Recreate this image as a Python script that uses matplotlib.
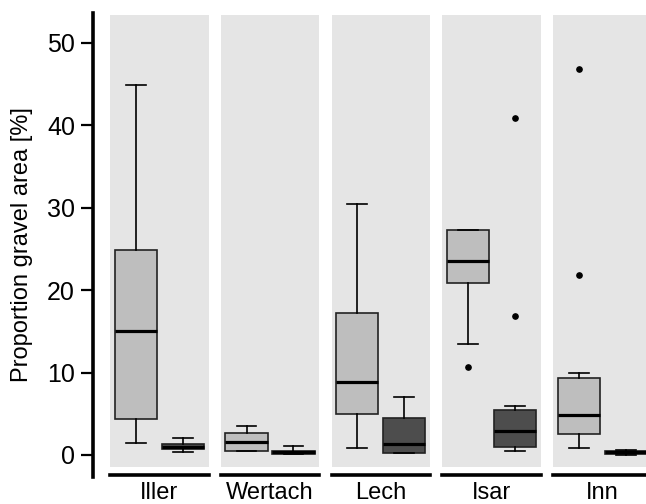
import matplotlib
matplotlib.use('Agg')
import matplotlib.pyplot as plt

plt.rcParams['font.family'] = ['Liberation Sans', 'DejaVu Sans']

rivers = ['Iller', 'Wertach', 'Lech', 'Isar', 'Inn']
# each river: [light box, dark box]
whislo = [[1.4, 0.3], [0.52, 0.16], [0.9, 0.2], [13.5, 0.5], [0.9, 0.0]]
q1 = [[4.4, 0.7], [0.52, 0.16], [5.0, 0.2], [20.9, 0.93], [2.6, 0.12]]
med = [[15.0, 1.0], [1.55, 0.3], [8.9, 1.35], [23.5, 2.95], [4.85, 0.33]]
q3 = [[24.9, 1.3], [2.63, 0.52], [17.2, 4.45], [27.3, 5.5], [9.4, 0.5]]
whishi = [[44.9, 2.0], [3.56, 1.09], [30.5, 7.0], [27.3, 5.9], [9.9, 0.6]]
fliers = [[[], []], [[], []], [[], []], [[10.7], [40.9, 16.9]], [[46.9, 21.9], []]]

box_colors = ['#BEBEBE', '#4D4D4D']
panel_bg = '#E5E5E5'

fig = plt.figure(figsize=(6.46, 5.04), dpi=100)
W, H = 646.0, 504.0

# panels
for i, river in enumerate(rivers):
    left = 110 + i * 110.75
    ax = fig.add_axes([left / W, (H - 467) / H, 98.5 / W, 452 / H])
    ax.set_facecolor(panel_bg)
    stats = []
    for j in range(2):
        stats.append(dict(whislo=whislo[i][j], q1=q1[i][j], med=med[i][j],
                          q3=q3[i][j], whishi=whishi[i][j], fliers=fliers[i][j]))
    bp = ax.bxp(stats, positions=[1, 2], widths=0.9, capwidths=0.42,
                patch_artist=True, showfliers=True,
                boxprops=dict(edgecolor='#222222', linewidth=1.2),
                medianprops=dict(color='black', linewidth=2.3),
                whiskerprops=dict(color='black', linewidth=1.2),
                capprops=dict(color='black', linewidth=1.2),
                flierprops=dict(marker='o', markerfacecolor='black',
                                markeredgecolor='black', markersize=3.8))
    for patch, c in zip(bp['boxes'], box_colors):
        patch.set_facecolor(c)
    ax.set_xlim(0.45, 2.55)
    ax.set_ylim(-1.46, 53.4)
    for s in ['top', 'left', 'right']:
        ax.spines[s].set_visible(False)
    ax.spines['bottom'].set_position(('outward', 6))
    ax.spines['bottom'].set_linewidth(2.6)
    ax.set_xticks([])
    ax.set_yticks([])
    ax.set_xlabel(river, fontsize=17, labelpad=5)

# y axis
axy = fig.add_axes([93 / W, (H - 477) / H, 0.5 / W, 464 / H])
axy.patch.set_visible(False)
axy.set_ylim(-2.67, 53.64)
for s in ['top', 'bottom', 'right']:
    axy.spines[s].set_visible(False)
axy.spines['left'].set_linewidth(2.6)
axy.set_xticks([])
axy.set_yticks([0, 10, 20, 30, 40, 50])
axy.tick_params(axis='y', length=9, width=1.6, labelsize=18, pad=4)

fig.text(22 / W, 1 - 245 / H, 'Proportion gravel area [%]', rotation=90,
         ha='center', va='center', fontsize=17)

plt.savefig('out.png', dpi=100)
